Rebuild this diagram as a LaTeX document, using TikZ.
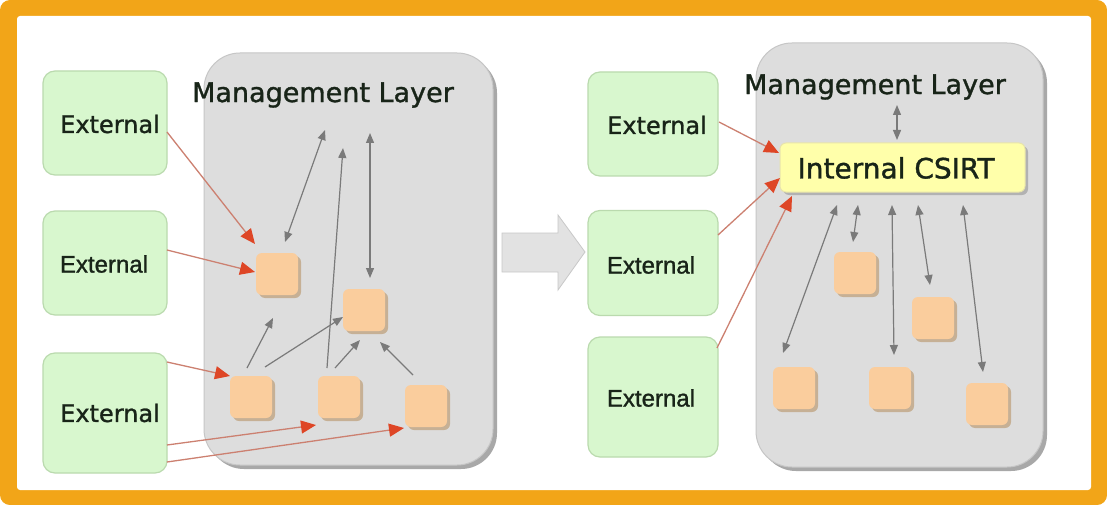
\documentclass[tikz,border=0pt]{standalone}
\usepackage{fontspec}
\setmainfont{DejaVu Sans}[FakeBold=1.2]
\newfontfamily\arialfont{Liberation Sans}[FakeBold=1.2]
\usetikzlibrary{arrows.meta,shadows}

\definecolor{framec}{RGB}{242,165,24}
\definecolor{extfill}{RGB}{216,247,206}
\definecolor{extline}{RGB}{186,218,174}
\definecolor{layerfill}{RGB}{221,221,221}
\definecolor{layerline}{RGB}{198,198,198}
\definecolor{layershadow}{RGB}{168,168,168}
\definecolor{unitfill}{RGB}{250,205,157}
\definecolor{unitshadow}{RGB}{196,172,142}
\definecolor{csirtfill}{RGB}{255,255,170}
\definecolor{csirtline}{RGB}{232,228,172}
\definecolor{linkgray}{RGB}{122,122,122}
\definecolor{feedline}{RGB}{204,128,112}
\definecolor{feedtip}{RGB}{222,70,38}
\definecolor{txt}{RGB}{24,36,24}
\definecolor{bigarrowfill}{RGB}{226,226,226}
\definecolor{bigarrowline}{RGB}{200,200,200}

\begin{document}
\begin{tikzpicture}[x=1pt,y=-1pt,
  extbox/.style={draw=extline, line width=1.2pt, fill=extfill, rounded corners=12pt,
    minimum width=124pt, inner sep=0pt, font=\fontsize{24}{28}\selectfont, text=txt},
  exttext/.style={text=txt, inner sep=0pt, font=\fontsize{24}{28}\selectfont},
  layer/.style={draw=layerline, line width=1pt, fill=layerfill, rounded corners=36pt,
    inner sep=0pt, drop shadow={shadow xshift=4pt, shadow yshift=-4pt, fill=layershadow, opacity=1}},
  layertitle/.style={font=\fontsize{27}{30}\selectfont, text=txt, inner sep=0pt},
  unit/.style={fill=unitfill, rounded corners=6pt, minimum size=42pt, inner sep=0pt,
    drop shadow={shadow xshift=3pt, shadow yshift=-3pt, fill=unitshadow, opacity=0.9}},
  csirt/.style={draw=csirtline, line width=1pt, fill=csirtfill, rounded corners=6pt,
    minimum width=245pt, minimum height=49pt, inner sep=0pt,
    drop shadow={shadow xshift=3pt, shadow yshift=-3pt, fill=layershadow, opacity=0.8}},
  link/.style={draw=linkgray, line width=1.2pt, -{Triangle[length=10pt,width=8pt]}},
  linkboth/.style={draw=linkgray, line width=1.2pt, {Triangle[length=10pt,width=8pt]}-{Triangle[length=10pt,width=8pt]}},
  feed/.style={draw=feedline, line width=1.3pt, -{Triangle[length=15pt,width=13pt,color=feedtip]}}
]
\useasboundingbox (0,0) rectangle (1107,505);

% frame
\fill[white] (0,0) rectangle (1107,505);
\fill[framec, rounded corners=10pt] (0,0) rectangle (1107,505);
\fill[white, rounded corners=3pt] (17,16) rectangle (1091,490);

% ---------- left: before ----------
\node[layer, minimum width=289pt, minimum height=412pt] (lml) at (348.5,259) {};
\node[layertitle] (lmltitle) at (323,95) {Management Layer};

\node[extbox, minimum height=104pt] (le1) at (105,123) {};
\node[extbox, minimum height=104pt] (le2) at (105,263) {};
\node[extbox, minimum height=120pt] (le3) at (105,413) {};
\node[exttext] (le1t) at (110,124) {External};
\node[exttext, font=\arialfont\fontsize{24}{28}\selectfont] (le2t) at (104,264) {External};
\node[exttext] (le3t) at (110,413) {External};

\node[unit] (ua) at (277,274) {};
\node[unit] (ub) at (364,310) {};
\node[unit] (uc) at (251,397) {};
\node[unit] (ud) at (339,397) {};
\node[unit] (ue) at (426,406) {};

% link end points
\coordinate (g1a) at (285,242); \coordinate (g1b) at (325,130);
\coordinate (g2a) at (327,368); \coordinate (g2b) at (343,148);
\coordinate (g3a) at (370,278); \coordinate (g3b) at (370,133);
\coordinate (g4a) at (247,368); \coordinate (g4b) at (273,318);
\coordinate (g5a) at (265,367); \coordinate (g5b) at (343,317);
\coordinate (g6a) at (335,368); \coordinate (g6b) at (360,340);
\coordinate (g7a) at (413,375); \coordinate (g7b) at (380,342);

\draw[linkboth] (g1a) -- (g1b);
\draw[link] (g2a) -- (g2b);
\draw[linkboth] (g3a) -- (g3b);
\draw[link] (g4a) -- (g4b);
\draw[link] (g5a) -- (g5b);
\draw[link] (g6a) -- (g6b);
\draw[link] (g7a) -- (g7b);

\coordinate (r1a) at (167,132); \coordinate (r1b) at (255,244);
\coordinate (r2a) at (167,250); \coordinate (r2b) at (255,272);
\coordinate (r3a) at (167,362); \coordinate (r3b) at (230,376);
\coordinate (r4a) at (167,445); \coordinate (r4b) at (316,425);
\coordinate (r5a) at (167,462); \coordinate (r5b) at (404,428);

\draw[feed] (r1a) -- (r1b);
\draw[feed] (r2a) -- (r2b);
\draw[feed] (r3a) -- (r3b);
\draw[feed] (r4a) -- (r4b);
\draw[feed] (r5a) -- (r5b);

% ---------- transition arrow ----------
\filldraw[fill=bigarrowfill, draw=bigarrowline, line width=0.8pt]
  (502,233) -- (558,233) -- (558,215) -- (585,252) -- (558,290) -- (558,272) -- (502,272) -- cycle;

% ---------- right: after ----------
\node[layer, minimum width=287pt, minimum height=424pt] (rml) at (899.5,255) {};
\node[layertitle] (rmltitle) at (875,87) {Management Layer};

\node[extbox, minimum width=130pt, minimum height=104pt] (re1) at (653,124) {};
\node[extbox, minimum width=130pt, minimum height=105pt] (re2) at (653,263) {};
\node[extbox, minimum width=130pt, minimum height=120pt] (re3) at (653,397) {};
\node[exttext] (re1t) at (657,125) {External};
\node[exttext, font=\arialfont\fontsize{24}{28}\selectfont] (re2t) at (651,265) {External};
\node[exttext, font=\arialfont\fontsize{24}{28}\selectfont] (re3t) at (651,398) {External};

\node[csirt] (cs) at (902.5,167.5) {};
\node[inner sep=0pt, text=txt, font=\fontsize{28}{32}\selectfont] (cst) at (896,168) {Internal CSIRT};

\node[unit] (s1) at (855,273) {};
\node[unit] (s2) at (933,318) {};
\node[unit] (s3) at (794,388) {};
\node[unit] (s4) at (890,388) {};
\node[unit] (s5) at (987,404) {};

\coordinate (h0a) at (897,105); \coordinate (h0b) at (897,140);
\coordinate (h1a) at (837,205); \coordinate (h1b) at (783,353);
\coordinate (h2a) at (858,205); \coordinate (h2b) at (853,242);
\coordinate (h3a) at (892,205); \coordinate (h3b) at (894,355);
\coordinate (h4a) at (918,205); \coordinate (h4b) at (930,285);
\coordinate (h5a) at (963,205); \coordinate (h5b) at (983,372);

\draw[linkboth] (h0a) -- (h0b);
\draw[linkboth] (h1a) -- (h1b);
\draw[linkboth] (h2a) -- (h2b);
\draw[linkboth] (h3a) -- (h3b);
\draw[linkboth] (h4a) -- (h4b);
\draw[linkboth] (h5a) -- (h5b);

\coordinate (r6a) at (719,122); \coordinate (r6b) at (779,153);
\coordinate (r7a) at (718,235); \coordinate (r7b) at (780,178);
\coordinate (r8a) at (717,348); \coordinate (r8b) at (792,196);

\draw[feed] (r6a) -- (r6b);
\draw[feed] (r7a) -- (r7b);
\draw[feed] (r8a) -- (r8b);
\end{tikzpicture}
\end{document}
